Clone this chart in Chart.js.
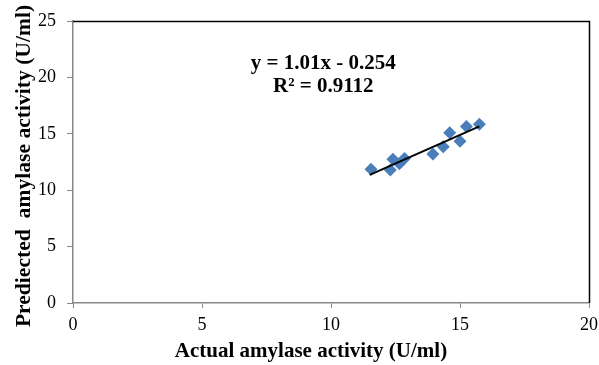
<!DOCTYPE html>
<html>
<head>
<meta charset="utf-8">
<script src="https://cdn.jsdelivr.net/npm/chart.js@4"></script>
<style>
html,body{margin:0;padding:0;background:#fff;}
#wrap{width:599px;height:365px;}
</style>
</head>
<body>
<div id="wrap"><canvas id="c" width="599" height="365"></canvas></div>
<script>
const actual = [11.55, 12.3, 12.4, 12.65, 12.85, 13.95, 14.35, 14.6, 15.0, 15.25, 15.75];
const predicted = [11.85, 11.8, 12.75, 12.35, 12.8, 13.2, 13.85, 15.1, 14.35, 15.65, 15.85];
const slope = 1.01, intercept = -0.254;
const trendX = [11.5, 15.75];
const xTicks = [0, 5, 10, 15, 20];
const yTicks = [0, 5, 10, 15, 20, 25];
const eqLines = ["y = 1.01x - 0.254", "R² = 0.9112"];
const eqPos = [[9.7, 21.2], [9.7, 19.15]];
const xTitle = 'Actual amylase activity (U/ml)';
const yTitle = 'Prediected  amylase activity (U/ml)';

const pts = actual.map((x, i) => ({x: x, y: predicted[i]}));
const trend = trendX.map(x => ({x: x, y: slope * x + intercept}));

const font = "'Liberation Serif', 'Times New Roman', serif";

const frame = {
  id: 'frame',
  afterDatasetsDraw(chart) {
    const {ctx, chartArea: a, scales} = chart;
    ctx.save();
    ctx.strokeStyle = '#000';
    ctx.lineWidth = 1.5;
    ctx.beginPath();
    ctx.moveTo(a.left, a.top + 0.5);
    ctx.lineTo(a.right + 0.5, a.top + 0.5);
    ctx.lineTo(a.right + 0.5, a.bottom);
    ctx.stroke();
    ctx.fillStyle = '#000';
    ctx.font = 'bold 21px ' + font;
    ctx.textAlign = 'center';
    ctx.textBaseline = 'middle';
    eqLines.forEach((t, i) => {
      ctx.fillText(t, scales.x.getPixelForValue(eqPos[i][0]), scales.y.getPixelForValue(eqPos[i][1]));
    });
    // axis titles
    ctx.font = 'bold 21px ' + font;
    ctx.fillText(xTitle, 311, 352);
    ctx.font = 'bold 21.6px ' + font;
    ctx.translate(24, 166);
    ctx.rotate(-Math.PI / 2);
    ctx.fillText(yTitle, 0, 0);
    ctx.restore();
  }
};

new Chart(document.getElementById('c'), {
  type: 'scatter',
  data: {
    datasets: [
      {
        data: pts,
        pointStyle: 'rectRot',
        pointRadius: 6.5,
        pointHoverRadius: 6.5,
        backgroundColor: '#4A7EBB',
        borderColor: '#4A7EBB',
        borderWidth: 0,
        order: 2
      },
      {
        type: 'line',
        data: trend,
        borderColor: '#000',
        borderWidth: 2,
        pointRadius: 0,
        fill: false,
        order: 1
      }
    ]
  },
  options: {
    responsive: false,
    animation: false,
    events: [],
    layout: {padding: {top: 21, right: 10, left: 0, bottom: 0}},
    plugins: {legend: {display: false}, tooltip: {enabled: false}},
    scales: {
      x: {
        type: 'linear',
        min: 0, max: 20,
        afterBuildTicks: s => { s.ticks = xTicks.map(v => ({value: v})); },
        afterFit: s => { s.height = 62; s.paddingRight = 0; s.paddingLeft = 0; },
        grid: {drawOnChartArea: false, drawTicks: true, tickLength: 5, color: '#888'},
        border: {color: '#888', width: 1.5},
        ticks: {color: '#000', font: {family: font, size: 18}, padding: 6, maxRotation: 0},
        title: {display: false}
      },
      y: {
        type: 'linear',
        min: 0, max: 25,
        afterBuildTicks: s => { s.ticks = yTicks.map(v => ({value: v})); },
        afterFit: s => { s.width = 73; s.paddingTop = 0; s.paddingBottom = 0; },
        grid: {drawOnChartArea: false, drawTicks: true, tickLength: 6, color: '#888'},
        border: {color: '#888', width: 1.5},
        ticks: {color: '#000', font: {family: font, size: 18}, padding: 11},
        title: {display: false}
      }
    }
  },
  plugins: [frame]
});
</script>
</body>
</html>
